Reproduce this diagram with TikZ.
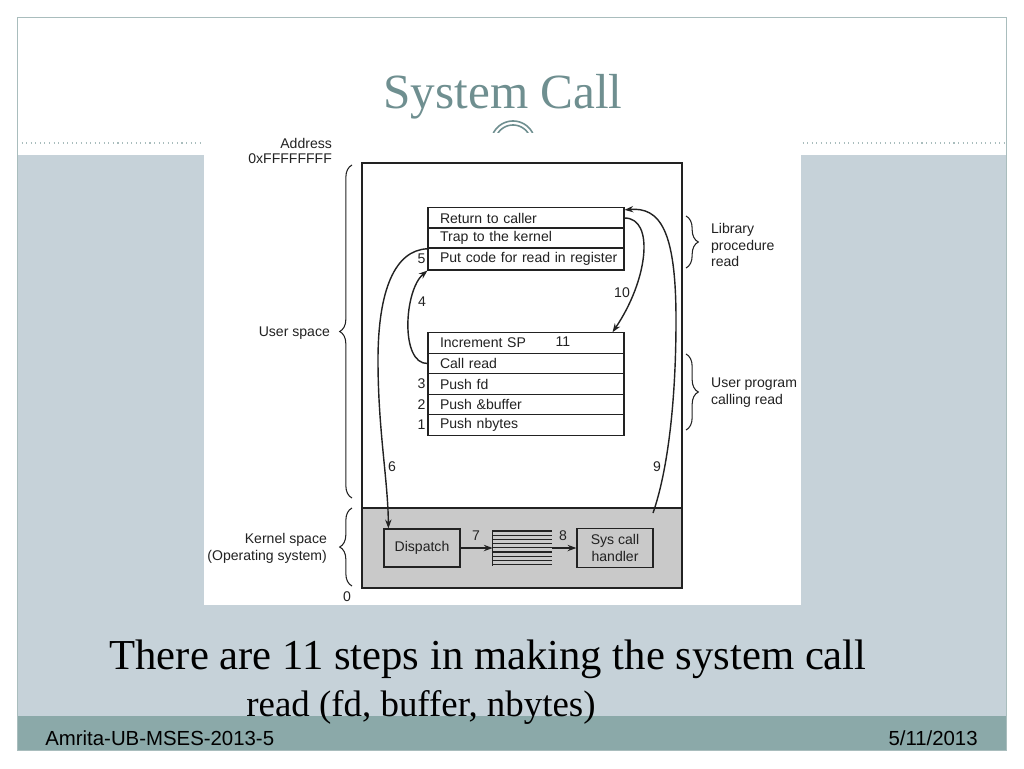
\documentclass[tikz,border=0pt]{standalone}
\usepackage{fontspec}
\setmainfont{Liberation Serif}
\setsansfont{Liberation Sans}
\usetikzlibrary{arrows.meta,decorations.pathreplacing}
\definecolor{bandcol}{HTML}{C6D2D9}
\definecolor{footcol}{HTML}{8BA9A9}
\definecolor{titlecol}{HTML}{6F8F90}
\definecolor{kerncol}{HTML}{C9C9C9}
\definecolor{framecol}{HTML}{A9BDBD}
\definecolor{inkcol}{HTML}{222222}
\newcommand{\lab}{\sffamily\fontsize{8}{9.6}\selectfont}
\begin{document}
\begin{tikzpicture}[x=0.02cm,y=-0.02cm,
  row/.style={draw=inkcol, line width=0.6pt, minimum width=3.92cm, minimum height=0.41cm,
    text width=3.92cm, inner xsep=0pt, inner ysep=0pt, align=left, font=\lab, text=inkcol,
    execute at begin node={\hspace*{0.24cm}}},
  lbl/.style={font=\lab, text=inkcol, inner sep=1pt},
  kbox/.style={draw=inkcol, line width=0.7pt, fill=kerncol, minimum width=1.52cm, minimum height=0.76cm,
    align=center, font=\lab, text=inkcol},
  arr/.style={-{Stealth[length=5pt,width=3.6pt]}, line width=0.8pt, draw=inkcol},
  brc/.style={decorate, decoration={brace, amplitude=7pt}, line width=0.6pt, draw=inkcol}]
\useasboundingbox (0,0) rectangle (1024,768);
% slide background
\fill[white] (0,0) rectangle (1024,768);
\fill[bandcol] (17,155) rectangle (1006,716);
\fill[footcol] (17,716) rectangle (1006,750);
\draw[framecol, line width=0.5pt] (17,17) rectangle (1006,750);
\draw[framecol, dotted, line width=0.6pt] (17,143) -- (1006,143);
\node[font=\fontsize{28}{32}\selectfont, text=titlecol] (title) at (503,97) {System Call};
\draw[titlecol, line width=0.9pt] plot[domain=10:170, samples=40] ({513+22*cos(\x)},{143-22*sin(\x)});
\draw[titlecol, line width=0.9pt] plot[domain=10:170, samples=40] ({513+18*cos(\x)},{143-18*sin(\x)});
% white picture area
\fill[white] (204,133) rectangle (801,605);
% memory
\node[draw=inkcol, line width=0.7pt, minimum width=6.4cm, minimum height=8.5cm, inner sep=0pt] (mem) at (522,375.5) {};
\node[draw=inkcol, line width=0.7pt, fill=kerncol, minimum width=6.4cm, minimum height=1.6cm, inner sep=0pt] (kern) at (522,548) {};
% library rows
\node[row] (ret) at (526,218) {Return to caller};
\node[row] (trap) at (526,238) {Trap to the kernel};
\node[row, minimum height=0.44cm] (put) at (526,259) {Put code for read in register};
% user rows
\node[row] (inc) at (526,343) {Increment SP};
\node[row] (call) at (526,363.5) {Call read};
\node[row] (pfd) at (526,384) {Push fd};
\node[row] (pbuf) at (526,404.5) {Push \&buffer};
\node[row] (pnb) at (526,425) {Push nbytes};
% kernel boxes
\node[kbox] (disp) at (422,548) {Dispatch};
\node[kbox] (sys) at (615,548) {Sys call\\handler};
\node[minimum width=1.18cm, minimum height=0.7cm, inner sep=0pt] (tab) at (522.5,548) {};
\draw[inkcol, line width=0.6pt] (tab.north west) -- (tab.south west);
\foreach \i in {0,...,8} {
  \draw[inkcol, line width=0.6pt] (493,{531+\i*4.2}) -- (552,{531+\i*4.2});
}
% left labels
\node[lbl, anchor=east] (addr) at (334,143) {Address};
\node[lbl, anchor=east] (ffff) at (334,159) {0xFFFFFFFF};
\node[lbl, anchor=east] (us) at (332,333) {User space};
\node[lbl, anchor=east, align=right] (ks) at (329,548) {Kernel space\\(Operating system)};
\node[lbl] (zero) at (347,597) {0};
\coordinate (ub1) at (352,498);
\coordinate (ub2) at (352,165);
\coordinate (kb1) at (352,586);
\coordinate (kb2) at (352,508);
\draw[brc] (ub1) -- (ub2);
\draw[brc] (kb1) -- (kb2);
% right labels
\coordinate (lb1) at (686,216);
\coordinate (lb2) at (686,268);
\coordinate (pb1) at (686,354);
\coordinate (pb2) at (686,430);
\draw[brc] (lb1) -- (lb2);
\draw[brc] (pb1) -- (pb2);
\node[lbl, anchor=west, align=left] (libl) at (709,245) {Library\\procedure\\read};
\node[lbl, anchor=west, align=left] (upl) at (709,392.5) {User program\\calling read};
% step numbers
\node[lbl, anchor=east] (n5) at (put.west) {5};
\node[lbl, anchor=east] (n3) at (pfd.west) {3};
\node[lbl, anchor=east] (n2) at (pbuf.west) {2};
\node[lbl, anchor=east] (n1) at (pnb.west) {1};
\node[lbl] (n4) at (422,302) {4};
\node[lbl] (n10) at (622,293) {10};
\node[lbl] (n11) at (563,342) {11};
\node[lbl] (n6) at (392,467) {6};
\node[lbl] (n9) at (657,467) {9};
\node[lbl] (n7) at (476,536) {7};
\node[lbl] (n8) at (563,536) {8};
% arrows
\draw[arr] (call.west) .. controls (400,364) and (404,290) .. (put.south west);
\draw[arr] (trap.south west) .. controls (395,250) and (378,290) .. (378,360)
   .. controls (378,430) and (388,480) .. ([xshift=0.1cm]disp.north west);
\coordinate (c9) at (653,513);
\draw[arr] (c9) .. controls (668,470) and (676,400) .. (676,320)
   .. controls (676,230) and (660,207) .. ([yshift=-1.5pt]ret.north east);
\draw[arr] (ret.east) .. controls (655,218) and (648,280) .. ([xshift=-0.24cm]inc.north east);
\draw[arr] (disp.east) -- (tab.west);
\draw[arr] (tab.east) -- (sys.west);
% bottom text
\node[font=\fontsize{24.3}{28}\selectfont, text=black, inner sep=0pt] (line1) at (488,659) {There are 11 steps in making the system call};
\node[font=\fontsize{21}{24}\selectfont, text=black, inner sep=0pt] (line2) at (421,707) {read (fd, buffer, nbytes)};
\node[font=\sffamily\fontsize{11.6}{13}\selectfont, text=black, anchor=west, inner sep=0pt] (foot1) at (45,738) {Amrita-UB-MSES-2013-5};
\node[font=\sffamily\fontsize{11.6}{13}\selectfont, text=black, anchor=east, inner sep=0pt] (foot2) at (978,738) {5/11/2013};
\end{tikzpicture}
\end{document}
